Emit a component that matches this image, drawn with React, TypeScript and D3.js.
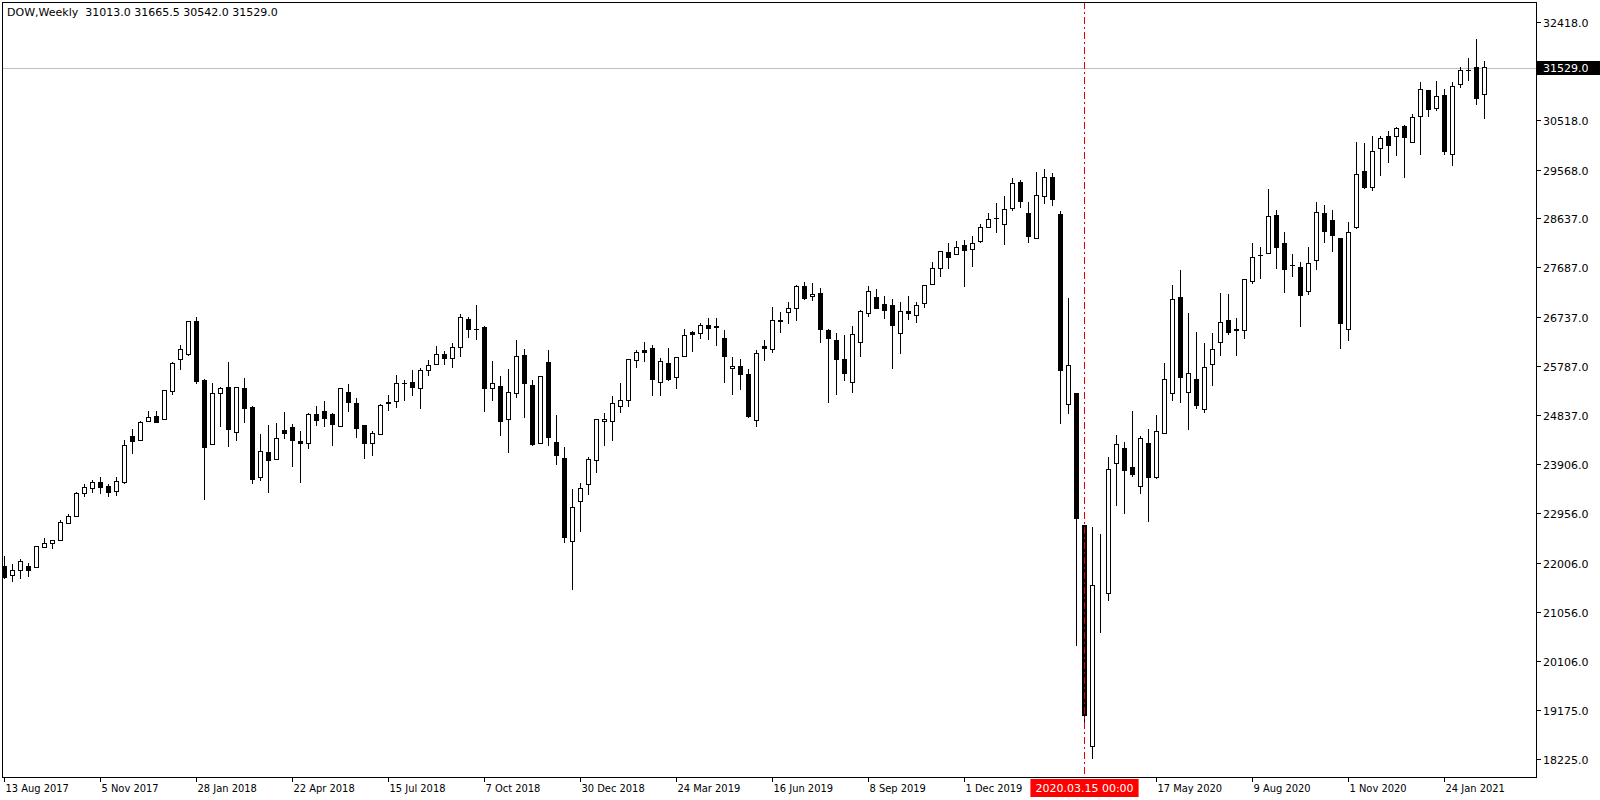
import React, { useRef, useEffect } from 'react';
import * as d3 from 'd3';

// DOW weekly bars, first bar = week of 13 Aug 2017
const symbolName = 'DOW,Weekly';
const firstWeek = new Date(2017, 7, 13);

const opens = [
  21939, 21760, 21862, 21939, 21914, 22299, 22376, 22434, 22761, 22896,
  23338, 23435, 23537, 23460, 23377, 23537, 24422, 24358, 24711, 24820,
  24763, 25301, 25910, 26006, 26635, 25500, 24287, 25259, 25378, 24512,
  25359, 24980, 23646, 24127, 23985, 24551, 24609, 24339, 24293, 24859,
  24917, 24859, 24620, 25282, 25070, 24634, 24293, 24466, 25090, 25109,
  25455, 25475, 25352, 25706, 25821, 26019, 25937, 26148, 26687, 26500,
  26520, 25359, 25398, 24763, 25263, 25994, 25417, 24301, 25846, 24320,
  24012, 22407, 23177, 23504, 23973, 24724, 24720, 25013, 25128, 25898,
  26096, 26129, 25475, 25840, 25571, 25967, 26429, 26410, 26572, 26552,
  26321, 25744, 25783, 25629, 24736, 26167, 26102, 26668, 26814, 26891,
  27322, 27122, 27174, 26475, 26283, 25917, 25475, 26244, 26802, 27116,
  26976, 26943, 26418, 26841, 26764, 26995, 27361, 27669, 27976, 27938,
  28111, 28034, 28188, 28458, 28631, 28515, 28823, 29324, 28727, 28246,
  29054, 29420, 28706, 25055, 25263, 22717, 18469, 21106, 21406, 23908,
  24201, 23835, 23465, 24297, 23652, 24493, 25255, 27110, 25282, 25532,
  24947, 25821, 26244, 26668, 26481, 26475, 27418, 27919, 27950, 28694,
  28150, 27726, 27688, 27218, 27815, 28714, 28592, 28246, 26495, 28450,
  29535, 29227, 29978, 30209, 30201, 30401, 30093, 30594, 31094, 30740,
  30998, 29862, 31210, 31479, 31537, 31013,
];
const highs = [
  22132, 21972, 22080, 21991, 22324, 22478, 22445, 22825, 22940, 23358,
  23517, 23594, 23652, 23517, 23652, 24364, 24570, 24736, 24922, 24922,
  25325, 25865, 26187, 26649, 26731, 25532, 25455, 25378, 25865, 25385,
  25557, 25013, 24480, 24653, 24686, 24897, 24672, 24537, 24878, 25019,
  25115, 24878, 25365, 25442, 25172, 24640, 24537, 25051, 25230, 25609,
  25519, 25711, 25744, 25904, 26173, 26077, 26231, 26789, 26740, 26962,
  26558, 25885, 25596, 25731, 26289, 26115, 25519, 25595, 26096, 24845,
  24224, 23421, 23531, 24037, 24770, 24878, 25205, 25455, 25917, 26096,
  26250, 26192, 25937, 26135, 25960, 26500, 26462, 26622, 26712, 26712,
  26481, 25962, 25923, 25736, 26096, 26289, 26924, 26828, 27020, 27341,
  27399, 27386, 27284, 26495, 26418, 26385, 26558, 26866, 27328, 27270,
  27135, 27078, 27014, 27135, 27020, 27345, 27790, 28000, 28155, 28194,
  28213, 28290, 28515, 28733, 28925, 29060, 29406, 29362, 28939, 29522,
  29580, 29497, 28769, 27095, 25270, 22720, 22682, 22547, 24029, 24457,
  24328, 24915, 24432, 24572, 24845, 25846, 27347, 27636, 26808, 26443,
  26231, 26423, 27193, 27174, 26706, 27462, 28150, 28084, 29198, 28790,
  28367, 27944, 27784, 28073, 28944, 28887, 28790, 28250, 28554, 30099,
  30074, 30215, 30215, 30311, 30388, 30426, 30638, 31254, 31100, 31273,
  31113, 31248, 31537, 31716, 32081, 31665.5,
];
const lows = [
  21689, 21637, 21683, 21733, 21907, 22290, 22261, 22430, 22755, 22890,
  23273, 23350, 23331, 23273, 23292, 23523, 24095, 24350, 24705, 24700,
  24760, 25236, 25717, 25987, 25448, 23210, 24274, 24614, 24235, 24351,
  24697, 23523, 23581, 23350, 23973, 24389, 23850, 23542, 24197, 24639,
  24620, 24254, 24609, 24909, 24408, 24004, 24062, 24460, 24928, 24986,
  25115, 25211, 24967, 25602, 25815, 25813, 25756, 25967, 26333, 26289,
  24909, 25121, 24447, 24120, 25178, 24793, 24254, 24295, 24254, 23889,
  22388, 21483, 22599, 23311, 23735, 24254, 24345, 24890, 25005, 25756,
  25871, 25217, 25217, 25505, 25352, 25960, 26063, 26308, 26289, 26179,
  25467, 25236, 25326, 24793, 24620, 25890, 26044, 26429, 26602, 26660,
  27064, 27039, 26237, 25082, 25236, 25505, 25274, 25967, 26726, 26880,
  26699, 25736, 26025, 26679, 26622, 26910, 27355, 27507, 27661, 27919,
  27314, 27699, 28150, 28450, 28354, 28123, 28766, 28835, 28161, 28240,
  28900, 28873, 24670, 24863, 20407, 18912, 18225, 20644, 21264, 23096,
  22938, 23652, 23331, 22786, 23619, 24490, 25121, 25082, 24562, 24967,
  24890, 25409, 25987, 26391, 25987, 26314, 27361, 27457, 27940, 27661,
  27199, 27495, 26545, 27160, 27642, 28150, 27988, 26110, 26275, 28419,
  29189, 29162, 29451, 29701, 29836, 29412, 30090, 29855, 30586, 30702,
  29855, 29643, 31144, 31279, 30817, 30542,
];
const closes = [
  21714, 21862, 22030, 21857, 22318, 22376, 22434, 22767, 22896, 23344,
  23454, 23537, 23446, 23350, 23575, 24249, 24331, 24705, 24801, 24705,
  25321, 25840, 26110, 26635, 25486, 24224, 25263, 25359, 24562, 25378,
  24970, 23600, 24147, 23966, 24397, 24485, 24351, 24293, 24859, 24743,
  24774, 24659, 25346, 25082, 24582, 24293, 24493, 25032, 25063, 25455,
  25450, 25371, 25706, 25802, 26019, 25929, 26148, 26726, 26487, 26494,
  25352, 25455, 24716, 25282, 25975, 25448, 24274, 25590, 24408, 24062,
  22484, 23069, 23435, 23993, 24763, 24760, 25070, 25128, 25904, 26052,
  26044, 25525, 25879, 25525, 25956, 26379, 26391, 26572, 26506, 26525,
  25967, 25783, 25621, 24813, 26033, 26121, 26668, 26641, 26899, 27322,
  27083, 27168, 26487, 26314, 25917, 25640, 26398, 26841, 27226, 26891,
  26860, 26564, 26841, 26802, 26956, 27341, 27669, 27996, 27880, 28073,
  28015, 28150, 28458, 28612, 28636, 28804, 29304, 28950, 28284, 29073,
  29420, 28989, 25698, 25796, 22861, 19054, 21562, 21106, 23794, 24272,
  23773, 23700, 24393, 23652, 24532, 25532, 27072, 25563, 25648, 25024,
  25763, 26110, 26629, 26429, 26476, 27457, 27880, 27915, 28669, 28073,
  27642, 27720, 27141, 27765, 28733, 28386, 28296, 26602, 28361, 29478,
  29220, 29920, 30157, 30028, 30363, 30182, 30575, 31113, 30721, 30979,
  29912, 31171, 31479, 31484, 30932, 31529,
];

const priceTicks = [
  32418, 30518, 29568, 28637, 27687, 26737, 25787, 24837,
  23906, 22956, 22006, 21056, 20106, 19175, 18225,
];
const timeTicks = [
  '13 Aug 2017', '5 Nov 2017', '28 Jan 2018', '22 Apr 2018', '15 Jul 2018',
  '7 Oct 2018', '30 Dec 2018', '24 Mar 2019', '16 Jun 2019', '8 Sep 2019',
  '1 Dec 2019', '17 May 2020', '9 Aug 2020', '1 Nov 2020', '24 Jan 2021',
];
const markerWeek = '15 Mar 2020';

const W = 1600;
const H = 800;

export default function App() {
  const svgRef = useRef<SVGSVGElement>(null);

  useEffect(() => {
    if (!svgRef.current) return;
    const svg = d3.select(svgRef.current);
    svg.selectAll('*').remove();

    const plot = { left: 2, top: 2, right: 1536, bottom: 777 };
    const n = opens.length;
    const fmtDay = d3.timeFormat('%-d %b %Y');
    const fmtMarker = d3.timeFormat('%Y.%m.%d %H:%M');
    const weeks = opens.map((_, i) => d3.timeWeek.offset(firstWeek, i));
    const weekNames = weeks.map(fmtDay);

    const x = d3.scaleLinear().domain([0, n - 1]).range([4, 4 + 8 * (n - 1)]);
    const y = d3.scaleLinear().domain([18225, 32418]).range([759, 21.5]);
    const bodyW = 4;

    svg.append('rect').attr('width', W).attr('height', H).attr('fill', '#fff');

    svg.append('defs').append('clipPath').attr('id', 'plotClip')
      .append('rect')
      .attr('x', plot.left).attr('y', plot.top)
      .attr('width', plot.right - plot.left).attr('height', plot.bottom - plot.top);

    const g = svg.append('g').attr('clip-path', 'url(#plotClip)');

    // current price line
    const last = closes[n - 1];
    g.append('line')
      .attr('x1', plot.left).attr('x2', plot.right)
      .attr('y1', Math.round(y(last)) + 0.5).attr('y2', Math.round(y(last)) + 0.5)
      .attr('stroke', '#c0c0c0').attr('stroke-width', 1);

    const idx = d3.range(n);

    // wicks
    g.selectAll('line.wick').data(idx).enter().append('line')
      .attr('class', 'wick')
      .attr('x1', i => Math.round(x(i)) + 0.5).attr('x2', i => Math.round(x(i)) + 0.5)
      .attr('y1', i => y(highs[i])).attr('y2', i => y(lows[i]))
      .attr('stroke', '#000').attr('stroke-width', 1)
      .attr('shape-rendering', 'crispEdges');

    // bodies
    g.selectAll('rect.body').data(idx).enter().append('rect')
      .attr('class', 'body')
      .attr('x', i => Math.round(x(i)) - bodyW / 2 + 0.5)
      .attr('y', i => y(Math.max(opens[i], closes[i])))
      .attr('width', bodyW)
      .attr('height', i => Math.abs(y(opens[i]) - y(closes[i])))
      .attr('fill', i => (closes[i] >= opens[i] ? '#fff' : '#000'))
      .attr('stroke', '#000').attr('stroke-width', 1)
      .attr('shape-rendering', 'crispEdges');

    // marker line
    const mi = weekNames.indexOf(markerWeek);
    const mx = Math.round(x(mi)) + 0.5;
    g.append('line')
      .attr('x1', mx).attr('x2', mx)
      .attr('y1', plot.top).attr('y2', plot.bottom)
      .attr('stroke', '#e00000').attr('stroke-width', 1)
      .attr('stroke-dasharray', '7,3,2,3');

    // frame
    svg.append('rect')
      .attr('x', plot.left + 0.5).attr('y', plot.top + 0.5)
      .attr('width', plot.right - plot.left).attr('height', plot.bottom - plot.top)
      .attr('fill', 'none').attr('stroke', '#000').attr('stroke-width', 1)
      .attr('shape-rendering', 'crispEdges');

    const sans = "'DejaVu Sans', Verdana, sans-serif";
    const narrow = "'DejaVu Sans Condensed', 'Liberation Sans Narrow', 'Liberation Sans', sans-serif";

    // title
    svg.append('text')
      .attr('x', 7).attr('y', 16)
      .attr('font-family', sans).attr('font-size', 11).attr('fill', '#000')
      .attr('xml:space', 'preserve')
      .text(`${symbolName}  ${d3.format('.1f')(opens[n - 1])} ${d3.format('.1f')(highs[n - 1])} ${d3.format('.1f')(lows[n - 1])} ${d3.format('.1f')(last)}`);

    // price axis
    const pa = svg.append('g');
    priceTicks.forEach(v => {
      const ty = Math.round(y(v)) + 0.5;
      pa.append('line')
        .attr('x1', plot.right + 1).attr('x2', plot.right + 5)
        .attr('y1', ty).attr('y2', ty).attr('stroke', '#000');
      pa.append('text')
        .attr('x', plot.right + 7).attr('y', ty + 4)
        .attr('font-family', sans).attr('font-size', 11).attr('fill', '#000')
        .text(d3.format('.1f')(v));
    });

    // last price tag
    const ly = Math.round(y(last));
    pa.append('rect')
      .attr('x', plot.right + 1).attr('y', ly - 7)
      .attr('width', W - plot.right - 1).attr('height', 14)
      .attr('fill', '#000');
    pa.append('text')
      .attr('x', plot.right + 7).attr('y', ly + 4)
      .attr('font-family', sans).attr('font-size', 11).attr('fill', '#fff')
      .text(d3.format('.1f')(last));

    // time axis
    const ta = svg.append('g');
    timeTicks.forEach(lbl => {
      const i = weekNames.indexOf(lbl);
      if (i < 0) return;
      const tx = Math.round(x(i)) + 0.5;
      ta.append('line')
        .attr('x1', tx).attr('x2', tx)
        .attr('y1', plot.bottom + 1).attr('y2', plot.bottom + 5)
        .attr('stroke', '#000');
      ta.append('text')
        .attr('x', tx + 1).attr('y', plot.bottom + 15)
        .attr('font-family', narrow).attr('font-size', 11).attr('fill', '#000')
        .text(lbl);
    });

    // marker tag
    const mLabel = fmtMarker(weeks[mi]);
    const mt = ta.append('text')
      .attr('x', mx).attr('y', plot.bottom + 15)
      .attr('text-anchor', 'middle')
      .attr('font-family', sans).attr('font-size', 11).attr('fill', '#fff')
      .text(mLabel);
    const bb = (mt.node() as SVGTextElement).getBBox();
    ta.insert('rect', 'text:last-child')
      .attr('x', bb.x - 5).attr('y', plot.bottom + 2)
      .attr('width', bb.width + 10).attr('height', 18)
      .attr('fill', '#ff0000');
    mt.raise();
  }, []);

  return (
    <svg
      ref={svgRef}
      width={W}
      height={H}
      style={{ position: 'absolute', left: 0, top: 0, display: 'block' }}
    />
  );
}
